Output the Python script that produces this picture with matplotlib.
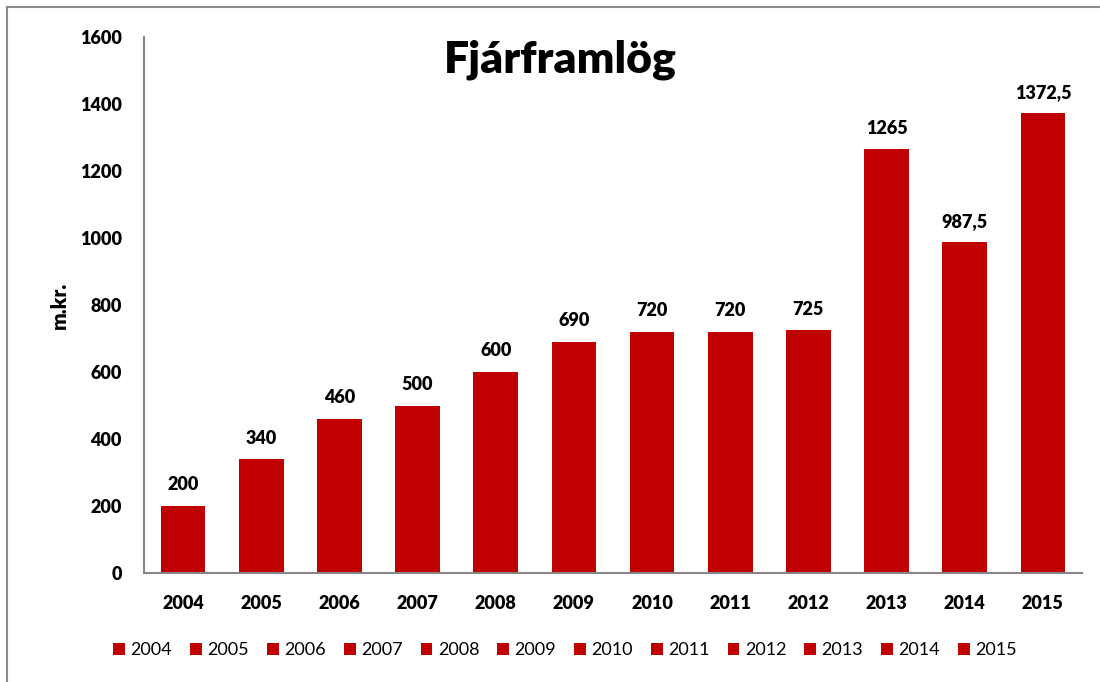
import numpy as np
import matplotlib
matplotlib.use("Agg")
import matplotlib.pyplot as plt
from matplotlib.lines import Line2D

years = ["2004", "2005", "2006", "2007", "2008", "2009",
         "2010", "2011", "2012", "2013", "2014", "2015"]
values = [200, 340, 460, 500, 600, 690, 720, 720, 725, 1265, 987.5, 1372.5]
value_labels = ["200", "340", "460", "500", "600", "690",
                "720", "720", "725", "1265", "987,5", "1372,5"]
yticks = [0, 200, 400, 600, 800, 1000, 1200, 1400, 1600]

bar_color = "#C00000"
axis_color = "#868686"
bold = 'heavy'

plt.rcParams['font.family'] = ['Lato', 'DejaVu Sans']

fig = plt.figure(figsize=(11, 6.82), dpi=100)
ax = fig.add_axes([144/1100, 1 - 573/682, (1082-144)/1100, (573-37)/682])

x = np.arange(len(years))
for i, year in enumerate(years):
    bars = ax.bar(x[i], values[i], width=0.57, color=bar_color, label=year)
    ax.bar_label(bars, labels=[value_labels[i]], padding=9,
                 fontsize=13, fontweight=bold)

ax.set_xlim(-0.5, len(years) - 0.5)
ax.set_ylim(0, 1600)
ax.set_yticks(yticks)
ax.set_xticks(x)
ax.set_xticklabels(years, fontweight=bold, fontsize=13)
ax.set_yticklabels([str(t) for t in yticks], fontweight=bold, fontsize=13)
ax.tick_params(axis='both', length=0)
ax.tick_params(axis='x', pad=16)
ax.tick_params(axis='y', pad=16)

for side in ["top", "right"]:
    ax.spines[side].set_visible(False)
for side in ["left", "bottom"]:
    ax.spines[side].set_color(axis_color)
    ax.spines[side].set_linewidth(1.5)

ax.set_ylabel("m.kr.", fontsize=15, fontweight=bold, labelpad=8)

fig.text(560/1100, 1 - 60/682, "Fjárframlög", fontsize=32, fontweight=bold,
         ha='center', va='center')

leg = fig.legend(loc='center', bbox_to_anchor=(565/1100, 1 - 650/682),
                 ncol=12, frameon=False, fontsize=13,
                 handlelength=0.65, handleheight=0.65, handletextpad=0.3,
                 columnspacing=1.0)

# outer chart frame (only left/top visible in the crop)
fig.add_artist(Line2D([7/1100, 7/1100], [0, 1 - 7/682], color="#8C8C8C",
                      linewidth=1.5, transform=fig.transFigure))
fig.add_artist(Line2D([7/1100, 1], [1 - 7/682, 1 - 7/682], color="#8C8C8C",
                      linewidth=1.5, transform=fig.transFigure))

fig.savefig("out.png", dpi=100, facecolor="white")
